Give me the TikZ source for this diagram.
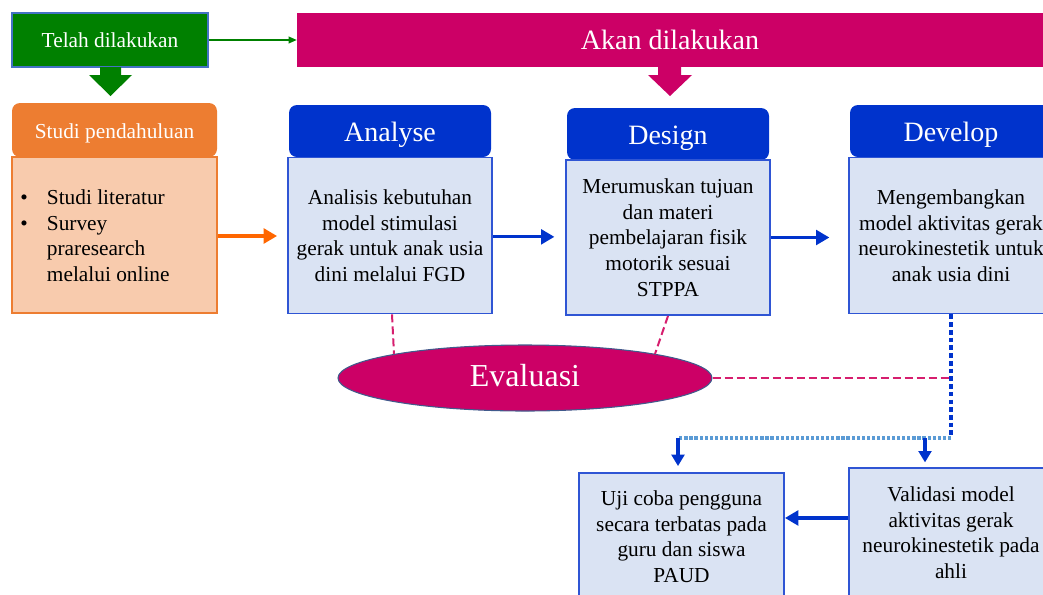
\documentclass[tikz,border=0pt]{standalone}
\usepackage{fontspec}
\setmainfont{Liberation Serif}
\usetikzlibrary{arrows.meta,shapes.geometric,calc}
\definecolor{tgreen}{RGB}{0,128,0}
\definecolor{mag}{RGB}{204,0,102}
\definecolor{dmag}{RGB}{214,30,110}
\definecolor{hblue}{RGB}{0,51,204}
\definecolor{bfill}{RGB}{218,227,243}
\definecolor{bline}{RGB}{47,85,212}
\definecolor{oran}{RGB}{237,125,49}
\definecolor{oarrow}{RGB}{255,102,0}
\definecolor{ofill}{RGB}{248,203,173}
\definecolor{lblue}{RGB}{91,155,213}
\definecolor{eline}{RGB}{65,90,140}
\definecolor{gline}{RGB}{68,114,196}
\begin{document}
\begin{tikzpicture}[x=0.75pt,y=-0.75pt,
  hdr/.style={rectangle, rounded corners=6pt, fill=hblue, text=white,
    font=\fontsize{21}{25}\selectfont, inner sep=0pt,
    text height=20pt, text depth=4.5pt},
  bodybox/.style={rectangle, draw=bline, line width=1.4pt, fill=bfill,
    align=center, font=\fontsize{16}{19.2}\selectfont, inner sep=0pt},
  bluearrow/.style={draw=hblue, line width=2.4pt,
    -{Triangle[length=10pt,width=11pt]}},
  varrow/.style={draw=hblue, line width=2.6pt,
    -{Triangle[length=8.5pt,width=9.5pt]}},
  magdash/.style={draw=dmag, line width=1.5pt, dash pattern=on 6pt off 3pt},
]
\useasboundingbox (0,0) rectangle (1043,594);
\clip (0,0) rectangle (1043,594);

% top bars
\node[rectangle, fill=tgreen, draw=gline, line width=0.8pt, text=white,
  font=\fontsize{16}{19.2}\selectfont, minimum width=196*0.75pt,
  minimum height=54*0.75pt, inner sep=0pt, text height=14.5pt, text depth=3pt]
  (telah) at (110,40) {Telah dilakukan};
\node[rectangle, fill=mag, text=white, font=\fontsize{21}{25}\selectfont,
  minimum width=746*0.75pt, minimum height=54*0.75pt, inner sep=0pt,
  text height=18pt, text depth=4.5pt]
  (akan) at (670,40) {Akan dilakukan};
\draw[tgreen, line width=1pt, -{Triangle[length=6pt,width=5pt]}]
  (telah.east) -- (akan.west);

% block arrows
\fill[tgreen] (100,67) -- (121,67) -- (121,75) -- (132,75) -- (110.5,96)
  -- (89,75) -- (100,75) -- cycle;
\fill[mag] (658,67) -- (681,67) -- (681,75) -- (692,75) -- (670,96)
  -- (648,75) -- (658,75) -- cycle;

% Studi pendahuluan
\node[rectangle, rounded corners=6pt, fill=oran, text=white,
  font=\fontsize{16}{19.2}\selectfont, minimum width=205*0.75pt,
  minimum height=54*0.75pt, inner sep=0pt, text height=16pt, text depth=3.5pt]
  (sh) at (114.5,130) {Studi pendahuluan};
\node[rectangle, fill=ofill, draw=oran, line width=1.4pt,
  minimum width=205*0.75pt, minimum height=156*0.75pt, inner sep=0pt]
  (sb) at (114.5,235) {};
\node[anchor=west, align=left, inner sep=0pt,
  font=\fontsize{16}{19.2}\selectfont] (sl) at (20,235.5)
  {\makebox[20pt][l]{\textbullet}Studi literatur\\
   \makebox[20pt][l]{\textbullet}Survey\\
   \makebox[20pt][l]{}praresearch\\
   \makebox[20pt][l]{}melalui online};

% Analyse
\node[hdr, minimum width=202*0.75pt, minimum height=52*0.75pt]
  (ah) at (390,131) {Analyse};
\node[bodybox, minimum width=204*0.75pt, minimum height=156*0.75pt]
  (ab) at (390,235.5) {Analisis kebutuhan\\model stimulasi\\gerak untuk anak usia\\dini melalui FGD};

% Design
\node[hdr, minimum width=202*0.75pt, minimum height=52*0.75pt]
  (dh) at (668,134) {Design};
\node[bodybox, minimum width=204*0.75pt, minimum height=155*0.75pt]
  (db) at (668,237.5) {Merumuskan tujuan\\dan materi\\pembelajaran fisik\\motorik sesuai\\STPPA};

% Develop
\node[hdr, minimum width=202*0.75pt, minimum height=52*0.75pt]
  (vh) at (951,131) {Develop};
\node[bodybox, minimum width=204*0.75pt, minimum height=156*0.75pt]
  (vb) at (951,235.5) {Mengembangkan\\model aktivitas gerak\\neurokinestetik untuk\\anak usia dini};

% Evaluasi
\node[ellipse, fill=mag, draw=eline, line width=0.8pt, text=white,
  font=\fontsize{24}{28}\selectfont, minimum width=374*0.75pt,
  minimum height=66*0.75pt, inner sep=0pt, text height=17pt, text depth=5pt]
  (ev) at (525,378) {Evaluasi};

% lower boxes
\node[bodybox, minimum width=205*0.75pt, minimum height=127*0.75pt]
  (uji) at (681.5,536.5) {Uji coba pengguna\\secara terbatas pada\\guru dan siswa\\PAUD};
\node[bodybox, minimum width=204*0.75pt, minimum height=129*0.75pt]
  (val) at (951,532.5) {Validasi model\\aktivitas gerak\\neurokinestetik pada\\ahli};

% connectors
\draw[draw=oarrow, line width=2.4pt, -{Triangle[length=10pt,width=11pt]},
  shorten >=7.5pt] ([yshift=-0.75pt]sb.east) -- ([yshift=-0.75pt]sb.east -| ab.west);
\draw[bluearrow, shorten >=8pt] ([yshift=-1pt]ab.east) -- ([yshift=-1pt]ab.east -| db.west);
\draw[bluearrow, shorten >=14pt] (db.east) -- (db.east -| vb.west);

\draw[magdash] ([xshift=1.5pt]ab.south) -- ($(ev.center)+(-131,-24)$);
\draw[magdash] (db.south) -- ($(ev.center)+(130,-24)$);
\draw[magdash] (ev.east) -- (ev.east -| vb.south);

\coordinate (c1) at (vb.south |- 0,438);
\coordinate (c2) at (678,438);
\coordinate (c3) at (925,438);
\draw[hblue, line width=2.4pt, dash pattern=on 3.5pt off 2.3pt] (vb.south) -- (c1);
\draw[lblue, line width=3pt, dash pattern=on 2.4pt off 1.4pt] (c1) -- (c2);
\draw[varrow, shorten >=4.5pt] (c2) -- (c2 |- uji.north);
\draw[varrow, shorten >=3.5pt] (c3) -- (c3 |- val.north);
\draw[bluearrow] ([yshift=10.9pt]val.west) -- ([yshift=10.9pt]val.west -| uji.east);
\end{tikzpicture}
\end{document}
